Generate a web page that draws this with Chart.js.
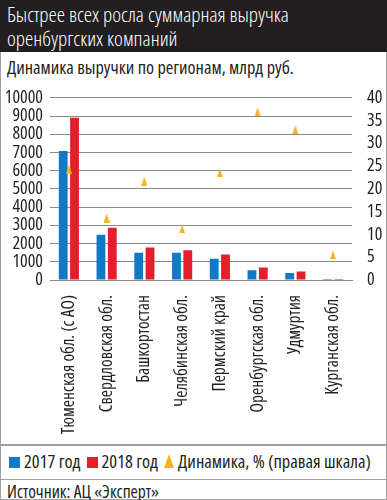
<!DOCTYPE html>
<html>
<head>
<meta charset="utf-8">
<script src="https://cdn.jsdelivr.net/npm/chart.js@4.4.0/dist/chart.umd.min.js"></script>
<style>
  body { margin: 0; width: 387px; height: 500px; background: #fff; overflow: hidden;
         font-family: "Open Sans", sans-serif; font-stretch: 75%; color: #231f20; }
  .frame { position: absolute; left: 0; top: 0; width: 385px; height: 499px; border: 1px solid #a0a0a0; border-top: none; }
  .title { position: absolute; left: 0; top: 0; width: 387px; height: 52px; background: #231f20; color: #fff;
           font-size: 21px; line-height: 24px; padding: 2px 0 0 7px; box-sizing: border-box; font-weight: 300; }
  .subtitle { position: absolute; left: 7px; top: 56px; font-size: 18.3px; line-height: 22px; }
  .chartbox { position: absolute; left: 0; top: 80px; width: 387px; height: 364px; }
  .sep { position: absolute; left: 0; width: 387px; height: 2px; background: #a0a0a0; }
  .legend { position: absolute; left: 9px; top: 450px; font-size: 18.4px; line-height: 22px; white-space: nowrap; }
  .legend span.item { margin-right: 6px; }
  .legend i { display: inline-block; vertical-align: 0px; margin-right: 4px; }
  .source { position: absolute; left: 7px; top: 481px; font-size: 17.5px; line-height: 20px; }
</style>
</head>
<body>
<div class="frame"></div>
<div class="title">Быстрее всех росла суммарная выручка<br>оренбургских компаний</div>
<div class="subtitle">Динамика выручки по регионам, млрд руб.</div>
<div class="chartbox"><canvas id="chart"></canvas></div>
<div class="sep" style="top:444px"></div>
<div class="legend" id="legend"></div>
<div class="sep" style="top:479px; height:1px"></div>
<div class="source">Источник: АЦ «Эксперт»</div>
<script>
// данные
const regions = ['Тюменская обл. (с АО)', 'Свердловская обл.', 'Башкортостан', 'Челябинская обл.',
  'Пермский край', 'Оренбургская обл.', 'Удмуртия', 'Курганская обл.'];
const rev2017 = [7080, 2490, 1490, 1490, 1170, 540, 390, 50];
const rev2018 = [8900, 2870, 1790, 1630, 1400, 680, 470, 60];
const growth = [24.3, 13.6, 21.7, 11.2, 23.5, 36.9, 33.0, 5.5];
const leftTicks = [0, 10000, 1000];
const rightTicks = [0, 40, 5];

const BLUE = '#1179c6';
const RED = '#e41f2b';
const GOLD = '#f3b21e';

// треугольник для точек
function makeTriangle(w, h) {
  const c = document.createElement('canvas');
  c.width = w; c.height = h;
  const g = c.getContext('2d');
  g.fillStyle = GOLD;
  g.beginPath();
  g.moveTo(w / 2, 0);
  g.lineTo(w, h);
  g.lineTo(0, h);
  g.closePath();
  g.fill();
  return c;
}
const tri = makeTriangle(6, 9);

// узкий шрифт: stretch передаём через weight
const tickFont = { family: '"Open Sans", sans-serif', size: 18, weight: '400 condensed' };

const chart = new Chart(document.getElementById('chart'), {
  data: {
    labels: regions,
    datasets: [
      { type: 'line', label: 'Динамика, % (правая шкала)', data: growth, yAxisID: 'y2',
        showLine: false, pointStyle: tri, pointRadius: 4, backgroundColor: GOLD, borderColor: GOLD, order: 0 },
      { type: 'bar', label: '2017 год', data: rev2017, backgroundColor: BLUE, yAxisID: 'y',
        categoryPercentage: 0.6, barPercentage: 0.78, order: 1 },
      { type: 'bar', label: '2018 год', data: rev2018, backgroundColor: RED, yAxisID: 'y',
        categoryPercentage: 0.6, barPercentage: 0.78, order: 1 }
    ]
  },
  options: {
    responsive: true,
    maintainAspectRatio: false,
    animation: false,
    layout: { padding: { top: 14, left: 0, right: 0, bottom: 0 } },
    plugins: { legend: { display: false }, tooltip: { enabled: false } },
    scales: {
      x: {
        grid: { display: false },
        border: { color: '#8a8a8a', width: 1 },
        ticks: { color: '#231f20', font: { ...tickFont, size: 17.5 }, minRotation: 90, maxRotation: 90, padding: 7, autoSkip: false },
        afterFit: s => { s.height = 164; }
      },
      y: {
        position: 'left', min: leftTicks[0], max: leftTicks[1],
        grid: { color: '#8a8a8a', lineWidth: 1, drawTicks: false },
        border: { display: false },
        ticks: { stepSize: leftTicks[2], autoSkip: false, color: '#231f20', font: tickFont, padding: 7, callback: v => String(v) },
        afterFit: s => { s.width = 50; }
      },
      y2: {
        position: 'right', min: rightTicks[0], max: rightTicks[1],
        grid: { display: false },
        border: { display: false },
        ticks: { stepSize: rightTicks[2], autoSkip: false, color: '#231f20', font: tickFont, padding: 7, callback: v => String(v) },
        afterFit: s => { s.width = 35; }
      }
    }
  }
});

// легенда из наборов данных
const order = [1, 2, 0];
document.getElementById('legend').innerHTML = order.map(i => {
  const ds = chart.data.datasets[i];
  const mark = ds.type === 'line'
    ? `<i style="width:0;height:0;border-left:5px solid transparent;border-right:5px solid transparent;border-bottom:14px solid ${GOLD}"></i>`
    : `<i style="width:11px;height:11px;background:${ds.backgroundColor}"></i>`;
  return `<span class="item">${mark}${ds.label}</span>`;
}).join('');
</script>
</body>
</html>
